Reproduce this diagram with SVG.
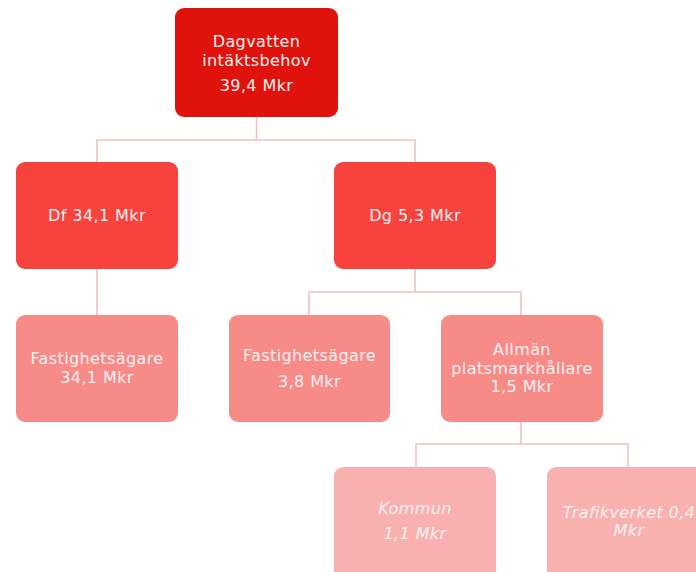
<svg xmlns="http://www.w3.org/2000/svg" width="696" height="572" viewBox="0 0 696 572">
<style>
.n rect{rx:9px}
.l1{fill:#e0120c}
.l2{fill:#f7423e}
.l3{fill:#f78b88}
.l4{fill:#f9b1b0}
text{font-family:"DejaVu Sans","Liberation Sans",sans-serif;font-size:16px;letter-spacing:0.4px;fill:#fff2f2;text-anchor:middle}
.it{font-style:italic;fill:#fff0f0}
.c{fill:none;stroke:#f6c0c0;stroke-width:1.6}
</style>
<rect width="696" height="572" fill="#fff"/>
<g id="connectors">
<path class="c" d="M256.5 117V140H97V162M256.5 140H415V162"/>
<path class="c" d="M97 269V315"/>
<path class="c" d="M415 269V292H309V315M415 292H521V315"/>
<path class="c" d="M521 422V444H416V467M521 444H628V467"/>
</g>
<g id="root" class="n"><rect class="l1" x="175" y="8" width="163" height="109"/>
<text x="256.5" y="47">Dagvatten</text><text x="256.5" y="66">intäktsbehov</text><text x="256.5" y="91">39,4 Mkr</text></g>
<g id="df" class="n"><rect class="l2" x="16" y="162" width="162" height="107"/>
<text x="97" y="221">Df 34,1 Mkr</text></g>
<g id="dg" class="n"><rect class="l2" x="334" y="162" width="162" height="107"/>
<text x="415" y="221">Dg 5,3 Mkr</text></g>
<g id="fast1" class="n"><rect class="l3" x="16" y="315" width="162" height="107"/>
<text x="97" y="364">Fastighetsägare</text><text x="97" y="383">34,1 Mkr</text></g>
<g id="fast2" class="n"><rect class="l3" x="229" y="315" width="161" height="107"/>
<text x="309.5" y="361">Fastighetsägare</text><text x="309.5" y="387">3,8 Mkr</text></g>
<g id="allman" class="n"><rect class="l3" x="441" y="315" width="162" height="107"/>
<text x="522" y="355">Allmän</text><text x="522" y="374">platsmarkhållare</text><text x="522" y="392">1,5 Mkr</text></g>
<g id="kommun" class="n"><rect class="l4" x="334" y="467" width="162" height="115"/>
<text class="it" x="415" y="514">Kommun</text><text class="it" x="415" y="539">1,1 Mkr</text></g>
<g id="trafikverket" class="n"><rect class="l4" x="547" y="467" width="162" height="115"/>
<text class="it" x="629" y="518">Trafikverket 0,4</text><text class="it" x="629" y="536">Mkr</text></g>
</svg>
